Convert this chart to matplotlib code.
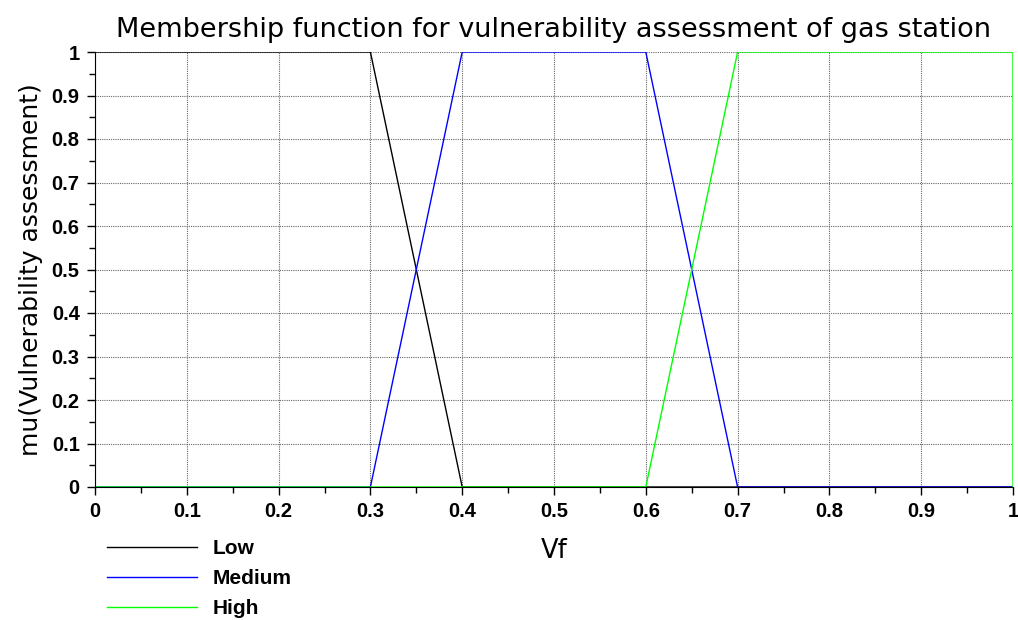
import matplotlib
matplotlib.use("Agg")
import matplotlib.pyplot as plt
from matplotlib.ticker import MultipleLocator

# Data
low_x = [0.0, 0.3, 0.4, 1.0]
low_y = [1.0, 1.0, 0.0, 0.0]
med_x = [0.0, 0.3, 0.4, 0.6, 0.7, 1.0]
med_y = [0.0, 0.0, 1.0, 1.0, 0.0, 0.0]
high_x = [0.0, 0.6, 0.7, 1.0, 1.0]
high_y = [0.0, 0.0, 1.0, 1.0, 0.0]
series_names = ["Low", "Medium", "High"]
xticks = [0, 0.1, 0.2, 0.3, 0.4, 0.5, 0.6, 0.7, 0.8, 0.9, 1]
xticklabels = ["0", "0.1", "0.2", "0.3", "0.4", "0.5", "0.6", "0.7", "0.8", "0.9", "1"]
yticks = [0, 0.1, 0.2, 0.3, 0.4, 0.5, 0.6, 0.7, 0.8, 0.9, 1]
yticklabels = ["0", "0.1", "0.2", "0.3", "0.4", "0.5", "0.6", "0.7", "0.8", "0.9", "1"]

fig = plt.figure(figsize=(10.18, 6.2), dpi=100)
ax = fig.add_axes([95/1018, 1-487/620, (1013-95)/1018, (487-52)/620])

l1, = ax.plot(low_x, low_y, color="black", lw=1.0, label=series_names[0])
l2, = ax.plot(med_x, med_y, color="#0000ff", lw=1.0, label=series_names[1])
l3, = ax.plot(high_x, high_y, color="#00ff00", lw=1.0, label=series_names[2])

ax.set_xlim(0, 1)
ax.set_ylim(0, 1)
ax.set_xticks(xticks)
ax.set_xticklabels(xticklabels)
ax.set_yticks(yticks)
ax.set_yticklabels(yticklabels)
ax.xaxis.set_minor_locator(MultipleLocator(0.05))
ax.yaxis.set_minor_locator(MultipleLocator(0.05))
for lab in ax.get_xticklabels() + ax.get_yticklabels():
    lab.set_fontfamily("Liberation Sans")
    lab.set_fontweight("bold")
    lab.set_fontsize(14.5)
ax.tick_params(which="major", direction="out", length=6, width=1, pad=5)
ax.tick_params(which="minor", direction="out", length=4, width=1)
ax.spines["top"].set_visible(False)
ax.spines["right"].set_visible(False)
ax.grid(True, which="major", color="#666666", linestyle=(0, (1, 1)), lw=0.8)
ax.set_axisbelow(True)

ax.set_title("Membership function for vulnerability assessment of gas station",
             fontsize=19.5, family="DejaVu Sans", pad=11)
ax.set_xlabel("Vf", fontsize=18.5, family="DejaVu Sans", labelpad=12)
ax.set_ylabel("mu(Vulnerability assessment)", fontsize=18, family="DejaVu Sans", labelpad=6)

fig.legend(handles=[l1, l2, l3], loc="upper left",
           bbox_to_anchor=(107/1018, 1-539/620), frameon=False,
           borderpad=0, borderaxespad=0, handlelength=4.33, handletextpad=0.72,
           labelspacing=0.53, prop={"family": "Liberation Sans", "weight": "bold", "size": 15})

fig.savefig("out.png", dpi=100)
